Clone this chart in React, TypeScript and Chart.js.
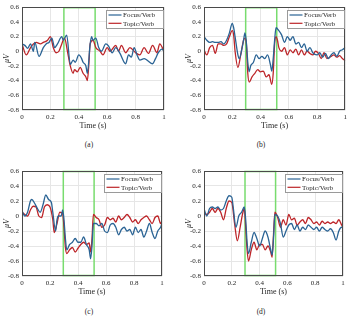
import React, { useEffect, useRef } from 'react';
import { Chart, registerables } from 'chart.js';

Chart.register(...registerables);

const FONT = '"Liberation Serif", "Times New Roman", serif';
const BLUE = '#2a6394';
const RED = '#bd2529';
const GREEN = '#78dc6e';
const GRID = '#e6e6e6';
const AXIS = '#4a4a4a';
const TEXT = '#262626';

const seriesLabels = ['Focus/Verb', 'Topic/Verb'];
const panelCaptions = ['(a)', '(b)', '(c)', '(d)'];
const xTitle = 'Time (s)';
const yTitle = 'μV';
const xMin = 0;
const xMax = 1;
const xStep = 0.2;
const yMin = -0.8;
const yMax = 0.6;
const yStep = 0.2;
const windowStart = 0.295;
const windowEnd = 0.515;

// Panel (a)
const aFocusT = [0,0.02,0.04,0.06,0.08,0.09,0.12,0.15,0.17,0.19,0.21,0.23,0.25,0.28,0.29,0.315,0.34,0.36,0.375,0.4,0.42,0.43,0.45,0.46,0.48,0.49,0.5,0.52,0.54,0.56,0.59,0.61,0.635,0.66,0.69,0.73,0.75,0.77,0.79,0.81,0.83,0.86,0.88,0.92,0.94,0.96,0.985,1.0];
const aFocusV = [0.1,0.08,0.04,0.1,0.0,0.12,-0.07,0.05,0.1,0.12,0.18,0.05,0.1,0.2,0.15,0.22,-0.18,-0.12,-0.15,-0.05,-0.1,-0.15,-0.2,-0.3,0.1,0.2,0.15,0.18,0.05,0.0,0.1,0.07,-0.02,0.05,-0.03,-0.17,-0.05,-0.08,0.05,-0.05,-0.12,-0.1,-0.12,-0.17,-0.1,-0.02,0.03,0.0];
const aTopicT = [0,0.03,0.06,0.08,0.1,0.13,0.15,0.18,0.2,0.22,0.24,0.26,0.28,0.3,0.32,0.34,0.36,0.37,0.39,0.41,0.43,0.45,0.46,0.47,0.48,0.5,0.52,0.55,0.57,0.6,0.62,0.66,0.68,0.7,0.73,0.76,0.8,0.83,0.86,0.89,0.92,0.95,0.97,1.0];
const aTopicV = [0.1,-0.05,0.05,0.1,0.12,0.1,0.12,0.15,0.2,0.05,-0.02,0.0,0.1,0.18,0.0,-0.2,-0.3,-0.25,-0.28,-0.22,-0.3,-0.35,-0.4,-0.2,0.1,0.15,0.05,0.0,-0.05,0.05,0.0,0.08,0.0,0.08,-0.02,0.05,-0.02,-0.05,0.05,-0.03,0.08,-0.02,0.1,0.0];

// Panel (b)
const bFocusT = [0,0.02,0.04,0.06,0.08,0.1,0.12,0.14,0.16,0.18,0.2,0.21,0.22,0.24,0.25,0.27,0.28,0.29,0.3,0.31,0.32,0.33,0.35,0.37,0.39,0.41,0.43,0.45,0.47,0.48,0.49,0.5,0.51,0.53,0.55,0.57,0.59,0.61,0.63,0.65,0.67,0.69,0.71,0.73,0.75,0.77,0.8,0.82,0.84,0.86,0.88,0.9,0.92,0.94,0.96,0.98,1.0];
const bFocusV = [0.2,0.15,0.12,0.13,0.12,0.12,0.13,0.1,0.15,0.25,0.38,0.32,0.2,-0.05,-0.1,0.05,0.15,0.25,0.12,-0.15,-0.28,-0.2,-0.15,-0.05,-0.1,-0.07,-0.1,-0.05,-0.18,-0.27,-0.1,0.15,0.32,0.28,0.22,0.12,0.2,0.15,0.2,0.1,0.12,0.05,0.1,0.0,0.05,-0.02,-0.05,-0.02,-0.08,-0.03,-0.1,-0.05,-0.02,-0.07,0.0,0.02,0.05];
const bTopicT = [0,0.02,0.04,0.06,0.08,0.1,0.12,0.14,0.16,0.18,0.2,0.21,0.22,0.24,0.26,0.28,0.29,0.3,0.31,0.32,0.34,0.36,0.38,0.4,0.42,0.44,0.46,0.48,0.49,0.5,0.51,0.52,0.53,0.55,0.57,0.59,0.61,0.63,0.65,0.67,0.69,0.71,0.73,0.75,0.77,0.79,0.81,0.83,0.85,0.87,0.9,0.92,0.94,0.96,0.98,1.0];
const bTopicV = [0.02,-0.05,0.05,0.08,-0.03,0.1,0.1,0.08,0.1,0.2,0.28,0.22,0.0,-0.22,-0.05,0.15,0.18,0.1,-0.3,-0.42,-0.35,-0.3,-0.25,-0.28,-0.27,-0.35,-0.32,-0.45,-0.3,0.1,0.2,0.15,0.05,0.0,0.05,-0.05,0.02,-0.02,0.03,-0.05,0.02,-0.05,0.0,-0.03,-0.05,0.0,-0.03,-0.1,-0.02,-0.1,-0.07,-0.05,-0.08,-0.06,-0.1,-0.13];

// Panel (c)
const cFocusT = [0,0.02,0.04,0.06,0.07,0.09,0.11,0.13,0.15,0.17,0.19,0.21,0.22,0.24,0.25,0.26,0.28,0.29,0.3,0.31,0.32,0.34,0.36,0.38,0.4,0.42,0.44,0.46,0.48,0.49,0.5,0.51,0.53,0.55,0.57,0.59,0.61,0.63,0.65,0.67,0.69,0.71,0.73,0.75,0.77,0.79,0.81,0.83,0.85,0.87,0.89,0.91,0.93,0.95,0.97,0.99,1.0];
const cFocusV = [0.07,0.0,0.05,0.2,0.22,0.17,0.1,0.05,0.15,0.28,0.22,0.18,0.05,-0.2,-0.05,0.0,0.0,0.08,-0.05,-0.3,-0.45,-0.38,-0.35,-0.3,-0.35,-0.35,-0.28,-0.38,-0.45,-0.57,-0.4,-0.1,-0.1,-0.13,-0.1,-0.2,-0.22,-0.12,-0.1,-0.15,-0.25,-0.18,-0.15,-0.2,-0.18,-0.25,-0.15,-0.22,-0.18,-0.28,-0.2,-0.1,-0.22,-0.3,-0.2,-0.15,-0.1];
const cTopicT = [0,0.02,0.04,0.06,0.08,0.1,0.12,0.14,0.16,0.18,0.2,0.22,0.23,0.25,0.27,0.29,0.3,0.31,0.32,0.34,0.36,0.38,0.4,0.42,0.44,0.46,0.48,0.49,0.5,0.51,0.53,0.55,0.57,0.59,0.61,0.63,0.65,0.67,0.69,0.71,0.73,0.75,0.77,0.79,0.81,0.83,0.85,0.87,0.89,0.91,0.93,0.95,0.97,0.99,1.0];
const cTopicV = [0.05,0.02,0.0,0.08,0.13,0.12,0.0,-0.02,0.12,0.15,0.12,-0.05,-0.22,-0.1,0.05,0.03,-0.15,-0.42,-0.5,-0.45,-0.42,-0.48,-0.43,-0.38,-0.35,-0.38,-0.36,-0.48,-0.3,0.02,-0.02,-0.05,-0.15,-0.12,-0.02,-0.05,-0.03,-0.08,0.0,-0.05,-0.02,0.02,-0.02,-0.08,-0.05,-0.1,-0.05,-0.02,0.0,-0.05,-0.1,-0.02,0.0,-0.1,-0.07];

// Panel (d)
const dFocusT = [0,0.02,0.04,0.06,0.08,0.1,0.12,0.14,0.16,0.18,0.2,0.21,0.23,0.25,0.27,0.29,0.3,0.31,0.32,0.34,0.36,0.38,0.4,0.42,0.44,0.46,0.48,0.49,0.5,0.51,0.53,0.55,0.57,0.59,0.61,0.63,0.65,0.67,0.69,0.71,0.73,0.75,0.77,0.79,0.81,0.83,0.85,0.87,0.89,0.91,0.93,0.95,0.97,0.99,1.0];
const dFocusV = [0.1,0.0,0.1,0.12,0.1,0.12,0.08,0.1,0.2,0.27,0.25,0.12,-0.15,0.0,0.05,0.12,-0.05,-0.35,-0.5,-0.35,-0.22,-0.3,-0.4,-0.3,-0.2,-0.28,-0.45,-0.52,-0.3,0.02,0.0,-0.1,-0.28,-0.2,-0.12,-0.1,-0.18,-0.12,-0.2,-0.15,-0.18,-0.12,-0.15,-0.18,-0.15,-0.2,-0.15,-0.18,-0.2,-0.17,-0.22,-0.32,-0.2,-0.15,-0.15];
const dTopicT = [0,0.02,0.04,0.06,0.08,0.1,0.12,0.14,0.16,0.18,0.2,0.22,0.24,0.26,0.28,0.29,0.3,0.31,0.32,0.34,0.36,0.38,0.4,0.42,0.44,0.46,0.48,0.49,0.5,0.51,0.53,0.55,0.57,0.59,0.61,0.63,0.65,0.67,0.69,0.71,0.73,0.75,0.77,0.79,0.81,0.83,0.85,0.87,0.89,0.91,0.93,0.95,0.97,0.99,1.0];
const dTopicV = [0.05,0.02,0.05,0.1,0.05,0.1,0.05,-0.05,0.1,0.2,0.18,-0.1,-0.33,-0.15,0.05,0.1,-0.15,-0.45,-0.6,-0.45,-0.35,-0.45,-0.38,-0.38,-0.45,-0.4,-0.48,-0.55,-0.25,0.05,-0.02,-0.15,-0.05,-0.12,0.02,-0.05,-0.03,-0.12,-0.08,-0.05,-0.1,-0.02,-0.05,-0.1,-0.08,-0.12,-0.07,-0.1,-0.08,-0.1,-0.08,-0.1,-0.05,-0.12,-0.15];

const fmt = (v: number) => {
  const n = Math.round(v * 10) / 10;
  return n === 0 ? '0' : String(n);
};

const toPoints = (t: number[], v: number[]) => t.map((x, i) => ({ x, y: v[i] }));

const windowPlugin = {
  id: 'erpWindow',
  beforeDatasetsDraw(chart: any) {
    const { ctx, chartArea, scales } = chart;
    const x0 = scales.x.getPixelForValue(windowStart);
    const x1 = scales.x.getPixelForValue(windowEnd);
    ctx.save();
    ctx.strokeStyle = GREEN;
    ctx.lineWidth = 1.5;
    ctx.strokeRect(x0, chartArea.top + 0.5, x1 - x0, chartArea.bottom - chartArea.top - 1);
    ctx.restore();
  },
};

const framePlugin = {
  id: 'frameBox',
  afterDatasetsDraw(chart: any) {
    const { ctx, chartArea } = chart;
    ctx.save();
    ctx.strokeStyle = AXIS;
    ctx.lineWidth = 1;
    ctx.strokeRect(
      Math.round(chartArea.left) + 0.5,
      Math.round(chartArea.top) + 0.5,
      Math.round(chartArea.right - chartArea.left) - 1,
      Math.round(chartArea.bottom - chartArea.top) - 1
    );
    ctx.restore();
  },
};

const legendPlugin = {
  id: 'innerLegend',
  afterDraw(chart: any) {
    const { ctx, chartArea } = chart;
    const w = 57;
    const h = 18;
    const x = Math.round(chartArea.right - w - 1) + 0.5;
    const y = Math.round(chartArea.top + 3) + 0.5;
    ctx.save();
    ctx.fillStyle = '#ffffff';
    ctx.fillRect(x, y, w, h);
    ctx.strokeStyle = '#9a9a9a';
    ctx.lineWidth = 1;
    ctx.strokeRect(x, y, w, h);
    chart.data.datasets.forEach((ds: any, i: number) => {
      const ly = y + 4.5 + i * 8.3;
      ctx.strokeStyle = ds.borderColor;
      ctx.lineWidth = 1.2;
      ctx.beginPath();
      ctx.moveTo(x + 2, ly);
      ctx.lineTo(x + 15, ly);
      ctx.stroke();
      ctx.fillStyle = TEXT;
      ctx.font = `7px ${FONT}`;
      ctx.textBaseline = 'middle';
      ctx.textAlign = 'left';
      ctx.fillText(ds.label, x + 16.5, ly + 0.5);
    });
    ctx.restore();
  },
};

type PanelProps = {
  left: number;
  top: number;
  width: number;
  height: number;
  pad: { left: number; top: number; right: number; bottom: number };
  focusT: number[];
  focusV: number[];
  topicT: number[];
  topicV: number[];
};

function Panel({ left, top, width, height, pad, focusT, focusV, topicT, topicV }: PanelProps) {
  const ref = useRef<HTMLCanvasElement>(null);
  useEffect(() => {
    if (!ref.current) return;
    const tickFont = { family: FONT, size: 7 };
    const chart = new Chart(ref.current, {
      type: 'line',
      data: {
        datasets: [
          {
            label: seriesLabels[0],
            data: toPoints(focusT, focusV),
            borderColor: BLUE,
            borderWidth: 1.3,
            pointRadius: 0,
            cubicInterpolationMode: 'monotone',
            fill: false,
          },
          {
            label: seriesLabels[1],
            data: toPoints(topicT, topicV),
            borderColor: RED,
            borderWidth: 1.3,
            pointRadius: 0,
            cubicInterpolationMode: 'monotone',
            fill: false,
          },
        ],
      },
      options: {
        responsive: false,
        animation: false,
        devicePixelRatio: 1,
        layout: { padding: pad },
        events: [],
        scales: {
          x: {
            type: 'linear',
            min: xMin,
            max: xMax,
            ticks: {
              stepSize: xStep,
              font: tickFont,
              color: TEXT,
              padding: 3,
              maxRotation: 0,
              callback: (v: any) => fmt(Number(v)),
            },
            grid: { color: GRID, drawTicks: false },
            border: { display: false },
            title: {
              display: true,
              text: xTitle,
              font: { family: FONT, size: 8 },
              color: TEXT,
              padding: { top: 0, bottom: 1 },
            },
            afterFit: (s: any) => {
              s.height = 22;
            },
          },
          y: {
            type: 'linear',
            min: yMin,
            max: yMax,
            ticks: {
              stepSize: yStep,
              font: tickFont,
              color: TEXT,
              padding: 3,
              callback: (v: any) => fmt(Number(v)),
            },
            grid: { color: GRID, drawTicks: false },
            border: { display: false },
            title: {
              display: true,
              text: yTitle,
              font: { family: FONT, size: 8, style: 'italic' },
              color: TEXT,
              padding: { top: 2, bottom: 0 },
            },
            afterFit: (s: any) => {
              s.width = 22;
            },
          },
        },
        plugins: {
          legend: { display: false },
          tooltip: { enabled: false },
        },
      },
      plugins: [windowPlugin, framePlugin, legendPlugin],
    } as any);
    return () => chart.destroy();
  }, []);
  return (
    <canvas
      ref={ref}
      width={width}
      height={height}
      style={{ position: 'absolute', left, top, width, height }}
    />
  );
}

const captionStyle = (x: number, y: number): React.CSSProperties => ({
  position: 'absolute',
  left: x,
  top: y,
  transform: 'translate(-50%, -50%)',
  fontFamily: FONT,
  fontSize: '7.5px',
  color: TEXT,
  whiteSpace: 'nowrap',
  lineHeight: 1,
});

export default function App() {
  return (
    <div
      style={{
        position: 'absolute',
        left: 0,
        top: 0,
        width: 350,
        height: 317,
        background: '#ffffff',
        overflow: 'hidden',
      }}
    >
      <Panel left={0} top={0} width={175} height={132} pad={{ left: 0, top: 4, right: 11, bottom: 0 }}
        focusT={aFocusT} focusV={aFocusV} topicT={aTopicT} topicV={aTopicV} />
      <Panel left={175} top={0} width={175} height={132} pad={{ left: 7, top: 4, right: 4, bottom: 0 }}
        focusT={bFocusT} focusV={bFocusV} topicT={bTopicT} topicV={bTopicV} />
      <Panel left={0} top={158} width={175} height={140} pad={{ left: 0, top: 13, right: 13, bottom: 0 }}
        focusT={cFocusT} focusV={cFocusV} topicT={cTopicT} topicV={cTopicV} />
      <Panel left={175} top={158} width={175} height={140} pad={{ left: 7, top: 13, right: 7, bottom: 0 }}
        focusT={dFocusT} focusV={dFocusV} topicT={dTopicT} topicV={dTopicV} />
      <div style={captionStyle(89, 145)}>{panelCaptions[0]}</div>
      <div style={captionStyle(261, 145)}>{panelCaptions[1]}</div>
      <div style={captionStyle(89, 312)}>{panelCaptions[2]}</div>
      <div style={captionStyle(261, 312)}>{panelCaptions[3]}</div>
    </div>
  );
}
